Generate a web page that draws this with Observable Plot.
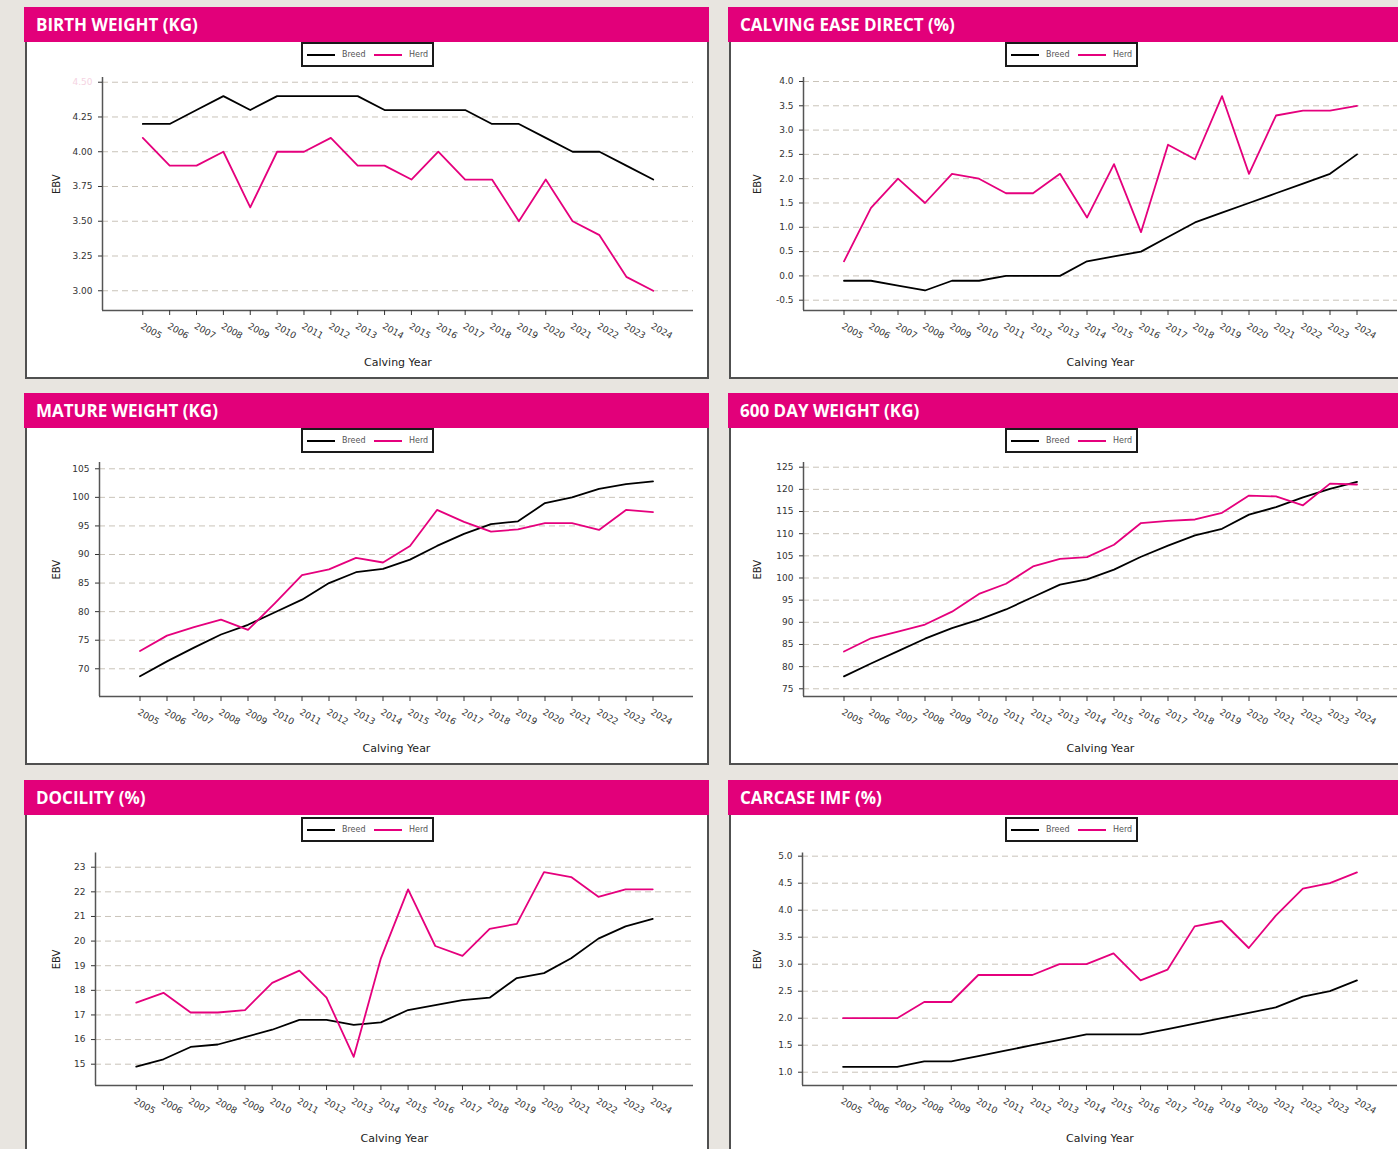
<!DOCTYPE html>
<html><head><meta charset="utf-8">
<script src="https://cdn.jsdelivr.net/npm/d3@7"></script>
<script src="https://cdn.jsdelivr.net/npm/@observablehq/plot@0.6"></script>
<style>
body{margin:0;background:#e8e5e0;}
#wrap{position:relative;width:1398px;height:1149px;overflow:hidden;background:#e8e5e0;font-family:"DejaVu Sans",sans-serif;}
.hdr{position:absolute;height:35px;width:685px;background:#e2007a;color:#fff;font:700 17px/35px "Open Sans",sans-serif;padding-left:12px;box-sizing:border-box;white-space:nowrap}
.bodybox{position:absolute;width:684px;height:337px;background:#fff;border:2px solid #505050;border-top:none;box-sizing:border-box}
.chart{position:absolute;width:685px;height:337px}
.chart svg{overflow:visible;max-width:none !important;width:685px;height:337px}
.legend{position:absolute;width:133px;height:25px;border:2px solid #1a1a1a;box-sizing:border-box;background:#fff;font:8px "DejaVu Sans",sans-serif;color:#555}
.legend .ln{position:absolute;top:10px;height:2px;width:28px}
.legend .tx{position:absolute;top:5px;line-height:11px}
</style>
</head><body>
<div id="wrap"></div>
<script>
const years = [2005,2006,2007,2008,2009,2010,2011,2012,2013,2014,2015,2016,2017,2018,2019,2020,2021,2022,2023,2024];
const seriesNames = ["Breed","Herd"];
const seriesColors = ["#000000","#e5007d"];

const birthBreed = [4.2,4.2,4.3,4.4,4.3,4.4,4.4,4.4,4.4,4.3,4.3,4.3,4.3,4.2,4.2,4.1,4.0,4.0,3.9,3.8];
const birthHerd  = [4.1,3.9,3.9,4.0,3.6,4.0,4.0,4.1,3.9,3.9,3.8,4.0,3.8,3.8,3.5,3.8,3.5,3.4,3.1,3.0];
const birthTicks = [3.00,3.25,3.50,3.75,4.00,4.25,4.50];

const calvBreed = [-0.1,-0.1,-0.2,-0.3,-0.1,-0.1,0.0,0.0,0.0,0.3,0.4,0.5,0.8,1.1,1.3,1.5,1.7,1.9,2.1,2.5];
const calvHerd  = [0.3,1.4,2.0,1.5,2.1,2.0,1.7,1.7,2.1,1.2,2.3,0.9,2.7,2.4,3.7,2.1,3.3,3.4,3.4,3.5];
const calvTicks = [-0.5,0.0,0.5,1.0,1.5,2.0,2.5,3.0,3.5,4.0];

const matureBreed = [68.7,71.3,73.7,76.0,77.7,79.9,82.1,85.0,86.9,87.5,89.1,91.5,93.6,95.3,95.8,99.0,100.0,101.5,102.3,102.8];
const matureHerd  = [73.1,75.8,77.3,78.6,76.8,81.5,86.4,87.4,89.4,88.6,91.5,97.8,95.7,94.0,94.4,95.5,95.5,94.3,97.8,97.4];
const matureTicks = [70,75,80,85,90,95,100,105];

const day600Breed = [77.8,80.7,83.5,86.3,88.7,90.6,92.9,95.7,98.5,99.7,101.9,104.8,107.3,109.6,111.1,114.3,116.0,118.2,120.1,121.7];
const day600Herd  = [83.4,86.4,87.9,89.5,92.4,96.4,98.7,102.6,104.3,104.7,107.5,112.4,112.9,113.2,114.7,118.6,118.4,116.4,121.3,121.1];
const day600Ticks = [75,80,85,90,95,100,105,110,115,120,125];

const docBreed = [14.9,15.2,15.7,15.8,16.1,16.4,16.8,16.8,16.6,16.7,17.2,17.4,17.6,17.7,18.5,18.7,19.3,20.1,20.6,20.9];
const docHerd  = [17.5,17.9,17.1,17.1,17.2,18.3,18.8,17.7,15.3,19.3,22.1,19.8,19.4,20.5,20.7,22.8,22.6,21.8,22.1,22.1];
const docTicks = [15,16,17,18,19,20,21,22,23];

const imfBreed = [1.1,1.1,1.1,1.2,1.2,1.3,1.4,1.5,1.6,1.7,1.7,1.7,1.8,1.9,2.0,2.1,2.2,2.4,2.5,2.7];
const imfHerd  = [2.0,2.0,2.0,2.3,2.3,2.8,2.8,2.8,3.0,3.0,3.2,2.7,2.9,3.7,3.8,3.3,3.9,4.4,4.5,4.7];
const imfTicks = [1.0,1.5,2.0,2.5,3.0,3.5,4.0,4.5,5.0];

const titles = ["BIRTH WEIGHT (KG)","CALVING EASE DIRECT (%)","MATURE WEIGHT (KG)","600 DAY WEIGHT (KG)","DOCILITY (%)","CARCASE IMF (%)"];
const xLabel = "Calving Year";
const yLabel = "EBV";

const charts = [
  {title:titles[0], breed:birthBreed, herd:birthHerd, ticks:birthTicks, faded:[4.5], dec:2, domain:[2.858,4.534], col:0, row:0, ml:78, mt:35, mb:69},
  {title:titles[1], breed:calvBreed, herd:calvHerd, ticks:calvTicks, faded:[], dec:1, domain:[-0.712,4.082], col:1, row:0, ml:75, mt:35, mb:69},
  {title:titles[2], breed:matureBreed, herd:matureHerd, ticks:matureTicks, faded:[], dec:0, domain:[65.15,106.1], col:0, row:1, ml:75, mt:34, mb:69},
  {title:titles[3], breed:day600Breed, herd:day600Herd, ticks:day600Ticks, faded:[], dec:0, domain:[73.26,126.06], col:1, row:1, ml:75, mt:34, mb:69},
  {title:titles[4], breed:docBreed, herd:docHerd, ticks:docTicks, faded:[], dec:0, domain:[14.135,23.577], col:0, row:2, ml:71, mt:37.5, mb:67},
  {title:titles[5], breed:imfBreed, herd:imfHerd, ticks:imfTicks, faded:[], dec:1, domain:[0.754,5.059], col:1, row:2, ml:74, mt:37.5, mb:67}
];

const colX = [24, 728];
const rowY = [7, 393, 780];
const legendTop = [0, 0, 2];
const wrap = document.getElementById("wrap");

function chartSvg(c){
  const data = years.flatMap((yr,i)=>[
    {year:yr, v:c.breed[i], s:seriesNames[0]},
    {year:yr, v:c.herd[i], s:seriesNames[1]}
  ]);
  const fmt = d => d.toFixed(c.dec);
  const ebvX = c.col === 0 ? 32 : 29;
  return Plot.plot({
    width:685, height:337,
    marginLeft:c.ml, marginRight:16, marginTop:c.mt, marginBottom:c.mb,
    style:{fontFamily:"DejaVu Sans, sans-serif", background:"transparent", overflow:"visible", maxWidth:"none"},
    x:{domain:[2003.5,2025.5]},
    y:{domain:c.domain},
    color:{domain:seriesNames, range:seriesColors},
    marks:[
      Plot.gridY(c.ticks, {stroke:"#c9c3b9", strokeOpacity:1, strokeDasharray:"6,4"}),
      Plot.ruleY([c.domain[0]], {stroke:"#555", strokeWidth:1.5}),
      Plot.ruleX([2003.5], {stroke:"#555", strokeWidth:1.5}),
      Plot.line(data, {x:"year", y:"v", z:"s", stroke:"s", strokeWidth:1.8}),
      Plot.axisY({ticks:c.ticks, tickSize:4, tickPadding:6, fontSize:9, color:"#333", label:null,
        tickFormat: d => c.faded.includes(d) ? "" : fmt(d)}),
      ...(c.faded.length ? [Plot.axisY({ticks:c.faded, tickSize:0, tickPadding:10, fontSize:9, color:"#f5d3e2", label:null, tickFormat:fmt})] : []),
      Plot.axisX({ticks:years, tickSize:5, color:"#333", label:null, tickFormat:()=>""}),
      Plot.text(years, {x:d=>d, text:d=>String(d), frameAnchor:"bottom", dx:7, dy:23, rotate:30, fontSize:9, fill:"#333"}),
      Plot.text([xLabel], {text:d=>d, frameAnchor:"bottom", dy:c.row === 2 ? 56 : 55, fontSize:11, fill:"#222"}),
      Plot.text([yLabel], {text:d=>d, frameAnchor:"left", dx:ebvX - c.ml, rotate:-90, fontSize:10, fill:"#222"})
    ]
  });
}

charts.forEach(c => {
  const x = colX[c.col], y = rowY[c.row];
  const h = document.createElement("div");
  h.className = "hdr"; h.style.left = x+"px"; h.style.top = y+"px"; h.textContent = c.title;
  wrap.appendChild(h);
  const b = document.createElement("div");
  b.className = "bodybox"; b.style.left = (x+1)+"px"; b.style.top = (y+35)+"px";
  wrap.appendChild(b);
  const ch = document.createElement("div");
  ch.className = "chart"; ch.style.left = x+"px"; ch.style.top = (y+35)+"px";
  ch.appendChild(chartSvg(c));
  wrap.appendChild(ch);
  const lg = document.createElement("div");
  lg.className = "legend"; lg.style.left = (x+277)+"px"; lg.style.top = (y+35+legendTop[c.row])+"px";
  lg.innerHTML = `<div class="ln" style="left:4px;background:${seriesColors[0]}"></div><div class="tx" style="left:39px">${seriesNames[0]}</div>`+
                 `<div class="ln" style="left:71px;background:${seriesColors[1]}"></div><div class="tx" style="left:106px">${seriesNames[1]}</div>`;
  wrap.appendChild(lg);
});
</script>
</body></html>
